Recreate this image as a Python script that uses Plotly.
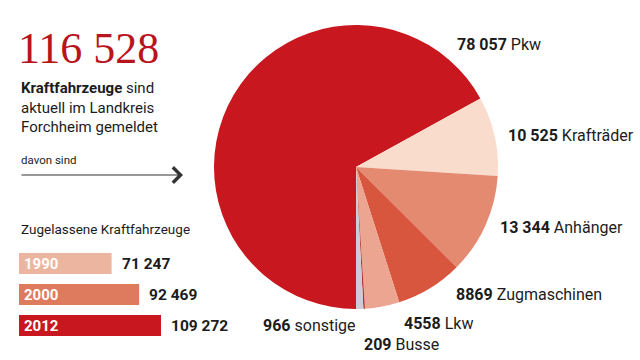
import plotly.graph_objects as go

# ---- data ----
pie_labels = ["Pkw", "Krafträder", "Anhänger", "Zugmaschinen", "Lkw", "Busse", "sonstige"]
pie_values = [78057, 10525, 13344, 8869, 4558, 209, 966]
pie_colors = ["#C8171E", "#FADCCD", "#E48A70", "#D8563E", "#ECA591", "#B8322A", "#CBCCD8"]

bar_years = ["1990", "2000", "2012"]
bar_values = [71247, 92469, 109272]
bar_colors = ["#EBB5A0", "#DE7A5E", "#C8171E"]

total_text = "116 528"

W, H = 640, 360
SANS = "Roboto, Arial"
DARK = "#1c1c1c"


def fmt(v):
    if v < 10000:
        return str(v)
    return f"{v:,}".replace(",", " ")


def px(x):
    return x / W


def py(y):
    return 1 - y / H


fig = go.Figure()

# pie
cx, cy, r = 356, 167, 142
fig.add_trace(go.Pie(
    labels=pie_labels, values=pie_values, sort=False, direction="clockwise",
    rotation=180, textinfo="none", hoverinfo="label+value",
    marker=dict(colors=pie_colors, line=dict(width=0)),
    domain=dict(x=[px(cx - r), px(cx + r)], y=[py(cy + r), py(cy - r)]),
    showlegend=False,
))

# bars
idx = list(range(len(bar_years)))
fig.add_trace(go.Bar(
    y=idx, x=bar_values, orientation="h",
    marker=dict(color=bar_colors, line=dict(width=0)),
    xaxis="x", yaxis="y", showlegend=False,
    customdata=bar_years, hovertemplate="%{customdata}: %{x}<extra></extra>",
))

bar_left, bar_right = 19, 161
fig.update_layout(
    width=W, height=H, autosize=False,
    margin=dict(l=0, r=0, t=0, b=0),
    paper_bgcolor="white", plot_bgcolor="rgba(0,0,0,0)",
    bargap=0.32,
    xaxis=dict(domain=[px(bar_left), px(bar_right)], range=[0, max(bar_values)],
               visible=False, fixedrange=True),
    yaxis=dict(domain=[py(341), py(248)], range=[2.5, -0.5],
               visible=False, fixedrange=True),
)

ann = []
# big number
ann.append(dict(x=px(16), y=py(49), xref="paper", yref="paper", xanchor="left", yanchor="middle",
                text=total_text, showarrow=False,
                font=dict(family="Liberation Serif, DejaVu Serif", size=44, color="#B8141E")))
ann.append(dict(x=px(19), y=py(107), xref="paper", yref="paper", xanchor="left", yanchor="middle",
                align="left", showarrow=False,
                text="<b>Kraftfahrzeuge</b> sind<br>aktuell im Landkreis<br>Forchheim gemeldet",
                font=dict(family=SANS, size=15, color=DARK)))
ann.append(dict(x=px(19), y=py(160), xref="paper", yref="paper", xanchor="left", yanchor="middle",
                text="davon sind", showarrow=False, font=dict(family=SANS, size=11.5, color=DARK)))
ann.append(dict(x=px(183), y=py(175), ax=-163, ay=0, xref="paper", yref="paper",
                axref="pixel", ayref="pixel", text="", showarrow=True,
                arrowhead=4, arrowsize=3, arrowwidth=1, arrowcolor="#333"))
ann.append(dict(x=px(19), y=py(229), xref="paper", yref="paper", xanchor="left", yanchor="middle",
                text="Zugelassene Kraftfahrzeuge", showarrow=False,
                font=dict(family=SANS, size=13.5, color=DARK)))

# bar labels
for i, (yr, v) in enumerate(zip(bar_years, bar_values)):
    ann.append(dict(x=0, y=i, xref="x", yref="y", xanchor="left", yanchor="middle", xshift=3,
                    text=f"<b>{yr}</b>", showarrow=False,
                    font=dict(family=SANS, size=15, color="white")))
    ann.append(dict(x=v, y=i, xref="x", yref="y", xanchor="left", yanchor="middle", xshift=8,
                    text=f"<b>{fmt(v)}</b>", showarrow=False,
                    font=dict(family=SANS, size=15.5, color=DARK)))

# pie labels positions (left x, center y in px)
pie_label_pos = {
    "Pkw": (455, 44), "Krafträder": (506, 135), "Anhänger": (498, 227),
    "Zugmaschinen": (454, 294), "Lkw": (402, 323), "Busse": (362, 344), "sonstige": (261, 325),
}
for lab, v in zip(pie_labels, pie_values):
    x0, y0 = pie_label_pos[lab]
    ann.append(dict(x=px(x0), y=py(y0), xref="paper", yref="paper", xanchor="left", yanchor="middle",
                    text=f"<b>{fmt(v)}</b> {lab}", showarrow=False,
                    font=dict(family=SANS, size=16, color=DARK)))

fig.update_layout(annotations=ann)
fig.write_html("out.html", config={"displayModeBar": False},
               post_script="document.body.style.margin='0';document.body.style.overflow='hidden';")
